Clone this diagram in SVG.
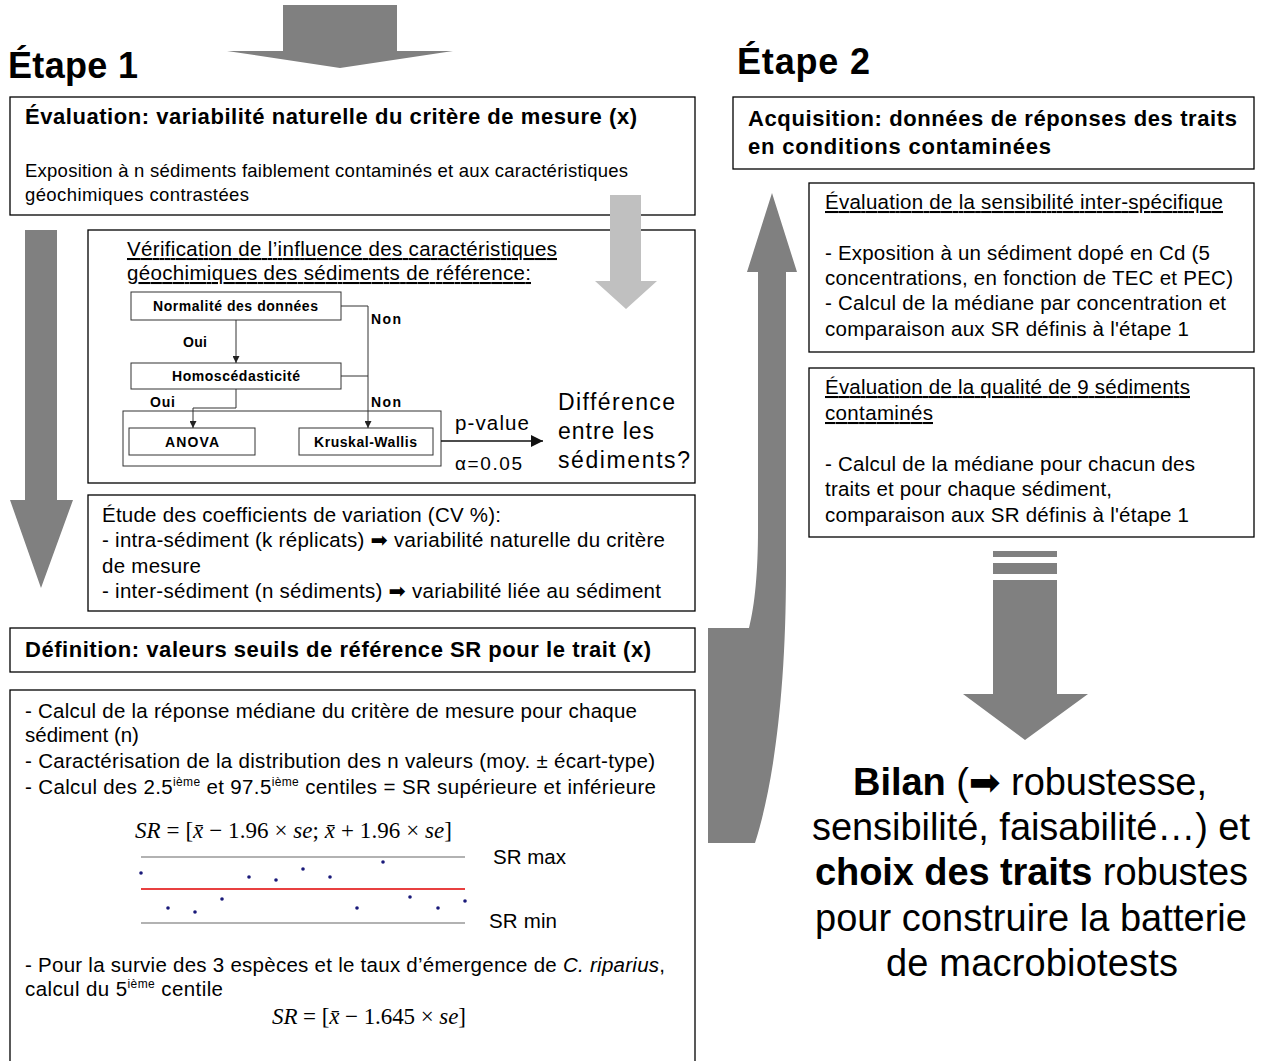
<svg xmlns="http://www.w3.org/2000/svg" width="1264" height="1061" viewBox="0 0 1264 1061">
<style>
.t{font-family:"Liberation Sans",Arial,"DejaVu Sans",sans-serif;fill:#000}
.b{font-weight:bold}
.s{font-family:"Liberation Serif","Times New Roman",serif;fill:#000}
.i{font-style:italic}
.box{fill:#fff;stroke:#000;stroke-width:1.3}
.sbox{fill:#fff;stroke:#333;stroke-width:1}
.gbox{fill:none;stroke:#333;stroke-width:1}
.arr{fill:#808080}
.arrl{fill:#c0c0c0}
.ln{fill:none;stroke:#333;stroke-width:1}
.u{text-decoration:underline}
.sup{font-size:12px}
.f20{font-size:20.5px}
.fl{font-size:14px}
.hd{font-size:22px;font-weight:bold}
</style>
<defs>
<marker id="ah" viewBox="0 0 10 10" refX="10" refY="5" markerWidth="7" markerHeight="7" orient="auto"><path d="M0,0 L10,5 L0,10 z" fill="#222"/></marker>
<marker id="ah2" viewBox="0 0 10 10" refX="10" refY="5" markerWidth="8" markerHeight="8" orient="auto"><path d="M0,0 L10,5 L0,10 z" fill="#111"/></marker>
</defs>
<rect width="1264" height="1061" fill="#fff"/>

<g id="arrows">
<polygon class="arr" points="283,5 397,5 397,51 453,51 340,68 227,51 283,51"/>
<polygon class="arr" points="25,230 57,230 57,500 73,500 41,588 10,500 25,500"/>
<path class="arr" d="M708,843 L708,628 L749,628 C755,605 758,570 758,530 L758,272 L747,272 L772,193 L797,272 L786,272 L786,570 C786,700 772,790 755,843 Z"/>
<rect class="arr" x="993" y="551" width="64" height="6"/>
<rect class="arr" x="993" y="563" width="64" height="11"/>
<polygon class="arr" points="993,580 1057,580 1057,694 1088,694 1025,740 963,694 993,694"/>
</g>

<text class="t b" x="8" y="78" font-size="36" textLength="130">Étape 1</text>
<text class="t b" x="737" y="74" font-size="36" textLength="133">Étape 2</text>

<g id="eval1">
<rect class="box" x="10" y="97" width="685" height="118"/>
<text class="t hd" x="25" y="124" textLength="612">Évaluation: variabilité naturelle du critère de mesure (x)</text>
<text class="t" x="25" y="177" font-size="18.5" textLength="603">Exposition à n sédiments faiblement contaminés et aux caractéristiques</text>
<text class="t" x="25" y="201" font-size="18.5" textLength="224">géochimiques contrastées</text>
</g>

<g id="verif">
<rect class="box" x="88" y="230" width="607" height="253"/>
<polygon class="arrl" points="610,195 641,195 641,281 657,281 626,309 595,281 610,281"/>
<text class="t u f20" x="127" y="256" textLength="430">Vérification de l’influence des caractéristiques</text>
<text class="t u f20" x="127" y="280" textLength="404">géochimiques des sédiments de référence:</text>
</g>

<g id="grp-tests">
<rect class="gbox" x="123" y="411" width="318" height="55"/>
</g>
<g id="normalite">
<rect class="sbox" x="131" y="292" width="210" height="28"/>
<text class="t b fl" x="153" y="311" textLength="165">Normalité des données</text>
</g>
<g id="homo">
<rect class="sbox" x="131" y="363" width="210" height="26"/>
<text class="t b fl" x="172" y="381" textLength="128">Homoscédasticité</text>
</g>
<g id="anova">
<rect class="sbox" x="129" y="428" width="126" height="27"/>
<text class="t b fl" x="165" y="447" textLength="54">ANOVA</text>
</g>
<g id="kruskal">
<rect class="sbox" x="299" y="428" width="134" height="27"/>
<text class="t b fl" x="314" y="447" textLength="103">Kruskal-Wallis</text>
</g>
<g id="difference">
<text class="t" x="558" y="410" font-size="23" textLength="117">Différence</text>
<text class="t" x="558" y="439" font-size="23" textLength="96">entre les</text>
<text class="t" x="558" y="468" font-size="23" textLength="132">sédiments?</text>
</g>

<g id="connectors">
<polyline class="ln" points="341,306 368,306 368,428" marker-end="url(#ah)"/>
<line class="ln" x1="341" y1="376" x2="368" y2="376"/>
<line class="ln" x1="236" y1="320" x2="236" y2="363" marker-end="url(#ah)"/>
<polyline class="ln" points="236,389 236,408 193,408 193,428" marker-end="url(#ah)"/>
<line x1="441" y1="441" x2="543" y2="441" stroke="#111" stroke-width="1.5" marker-end="url(#ah2)"/>
<text class="t b fl" x="371" y="324" textLength="30">Non</text>
<text class="t b fl" x="183" y="347" textLength="24">Oui</text>
<text class="t b fl" x="371" y="407" textLength="30">Non</text>
<text class="t b fl" x="150" y="407" textLength="25">Oui</text>
<text class="t f20" x="455" y="430" textLength="74">p-value</text>
<text class="t" x="455" y="470" font-size="19" textLength="67">α=0.05</text>
</g>

<g id="etude">
<rect class="box" x="88" y="495" width="607" height="116"/>
<text class="t f20" x="102" y="522" textLength="399">Étude des coefficients de variation (CV %):</text>
<text class="t f20" x="102" y="547" textLength="563">- intra-sédiment (k réplicats) ➡ variabilité naturelle du critère</text>
<text class="t f20" x="102" y="573" textLength="99">de mesure</text>
<text class="t f20" x="102" y="598" textLength="559">- inter-sédiment (n sédiments) ➡ variabilité liée au sédiment</text>
</g>

<g id="definition">
<rect class="box" x="10" y="628" width="685" height="44"/>
<text class="t hd" x="25" y="657" textLength="626">Définition: valeurs seuils de référence SR pour le trait (x)</text>
</g>

<g id="calcul">
<rect class="box" x="10" y="690" width="685" height="380"/>
<text class="t f20" x="25" y="718" textLength="612">- Calcul de la réponse médiane du critère de mesure pour chaque</text>
<text class="t f20" x="25" y="742">sédiment (n)</text>
<text class="t f20" x="25" y="768" textLength="630">- Caractérisation de la distribution des n valeurs (moy. ± écart-type)</text>
<text class="t f20" x="25" y="794" textLength="631">- Calcul des 2.5<tspan class="sup" dy="-8">ième</tspan><tspan dy="8"> et 97.5</tspan><tspan class="sup" dy="-8">ième</tspan><tspan dy="8"> centiles = SR supérieure et inférieure</tspan></text>
<text class="s" x="135" y="838" font-size="23" textLength="317"><tspan class="i">SR</tspan> = [<tspan class="i">x̄</tspan> − 1.96 × <tspan class="i">se</tspan>; <tspan class="i">x̄</tspan> + 1.96 × <tspan class="i">se</tspan>]</text>
<line x1="141" y1="857" x2="465" y2="857" stroke="#666" stroke-width="1.2"/>
<line x1="141" y1="889" x2="465" y2="889" stroke="#e00000" stroke-width="1.6"/>
<line x1="141" y1="923" x2="465" y2="923" stroke="#666" stroke-width="1.2"/>
<g fill="#1a1a7a">
<circle cx="141" cy="873" r="1.8"/><circle cx="168" cy="908" r="1.8"/><circle cx="195" cy="912" r="1.8"/>
<circle cx="222" cy="899" r="1.8"/><circle cx="249" cy="877" r="1.8"/><circle cx="276" cy="880" r="1.8"/>
<circle cx="303" cy="869" r="1.8"/><circle cx="330" cy="877" r="1.8"/><circle cx="357" cy="908" r="1.8"/>
<circle cx="383" cy="862" r="1.8"/><circle cx="410" cy="897" r="1.8"/><circle cx="438" cy="908" r="1.8"/>
<circle cx="465" cy="901" r="1.8"/>
</g>
<text class="t f20" x="493" y="864" textLength="73">SR max</text>
<text class="t f20" x="489" y="928" textLength="68">SR min</text>
<text class="t f20" x="25" y="972" textLength="640">- Pour la survie des 3 espèces et le taux d’émergence de <tspan class="i">C. riparius</tspan>,</text>
<text class="t f20" x="25" y="996" textLength="198">calcul du 5<tspan class="sup" dy="-8">ième</tspan><tspan dy="8"> centile</tspan></text>
<text class="s" x="272" y="1024" font-size="23" textLength="194"><tspan class="i">SR</tspan> = [<tspan class="i">x̄</tspan> − 1.645 × <tspan class="i">se</tspan>]</text>
</g>

<g id="acquisition">
<rect class="box" x="733" y="97" width="521" height="72"/>
<text class="t hd" x="748" y="126" textLength="489">Acquisition: données de réponses des traits</text>
<text class="t hd" x="748" y="154" textLength="303">en conditions contaminées</text>
</g>

<g id="sensibilite">
<rect class="box" x="809" y="183" width="445" height="169"/>
<text class="t u f20" x="825" y="209" textLength="398">Évaluation de la sensibilité inter-spécifique</text>
<text class="t f20" x="825" y="260" textLength="385">- Exposition à un sédiment dopé en Cd (5</text>
<text class="t f20" x="825" y="285" textLength="408">concentrations, en fonction de TEC et PEC)</text>
<text class="t f20" x="825" y="310" textLength="401">- Calcul de la médiane par concentration et</text>
<text class="t f20" x="825" y="336" textLength="364">comparaison aux SR définis à l'étape 1</text>
</g>

<g id="qualite">
<rect class="box" x="809" y="368" width="445" height="169"/>
<text class="t u f20" x="825" y="394" textLength="365">Évaluation de la qualité de 9 sédiments</text>
<text class="t u f20" x="825" y="420" textLength="108">contaminés</text>
<text class="t f20" x="825" y="471" textLength="370">- Calcul de la médiane pour chacun des</text>
<text class="t f20" x="825" y="496" textLength="287">traits et pour chaque sédiment,</text>
<text class="t f20" x="825" y="522" textLength="364">comparaison aux SR définis à l'étape 1</text>
</g>

<g id="bilan">
<text class="t" x="853" y="795" font-size="38" textLength="354"><tspan class="b">Bilan</tspan> (➡ robustesse,</text>
<text class="t" x="812" y="840" font-size="38" textLength="438">sensibilité, faisabilité…) et</text>
<text class="t" x="815" y="885" font-size="38" textLength="433"><tspan class="b">choix des traits</tspan> robustes</text>
<text class="t" x="815" y="931" font-size="38" textLength="432">pour construire la batterie</text>
<text class="t" x="886" y="976" font-size="38" textLength="292">de macrobiotests</text>
</g>
</svg>
